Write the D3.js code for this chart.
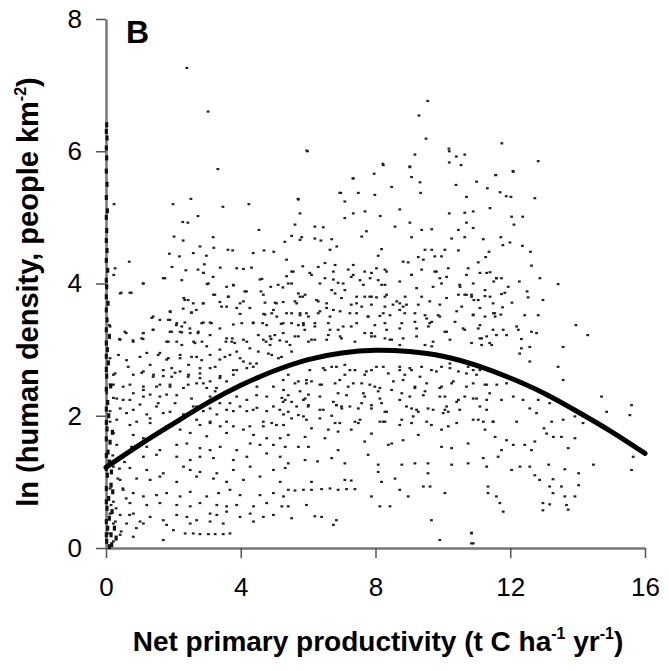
<!DOCTYPE html>
<html lang="en">
<head>
<meta charset="utf-8">
<script src="https://d3js.org/d3.v7.min.js"></script>
<style>
  body { margin: 0; background: #fff; }
  svg { display: block; font-family: "Liberation Sans", Arial, sans-serif; }
</style>
</head>
<body>
<svg width="669" height="671"></svg>
<script>
// ---- data (NPP in t C/ha/yr, ln people/km2) ----
var xTicks = [0, 4, 8, 12, 16];
var yTicks = [0, 2, 4, 6, 8];

// fitted quadratic, read at whole NPP units
var fitX = [0, 1, 2, 3, 4, 5, 6, 7, 8, 9, 10, 11, 12, 13, 14, 15, 16];
var fitY = [1.22, 1.56, 1.88, 2.19, 2.46, 2.68, 2.85, 2.95, 2.99, 2.97, 2.9, 2.76, 2.57, 2.34, 2.06, 1.76, 1.43];

// scattered cells, [npp, ln density]
var pointsTop = [[2.4,7.26],[3.03,6.6],[5.96,6.01],[5.7,5.28],[6.94,5.37],[9.55,6.76],[9.29,6.54],[9.5,6.19],
  [11.75,6.12],[10.18,6.04],[8.22,5.81],[9.02,5.76],[12.08,5.7],[11.57,5.64],[7.33,5.59]];

var pointsLeftHigh = [[3.32,5.73],[1.99,5.2],[2.52,5.28],[0.24,5.2],[4.24,5.2],[3.47,5.16],[2.73,5.02],[2.28,4.93],
  [2.43,4.92],[4.54,4.81],[2.02,4.71],[3.18,4.7],[2.29,4.65],[5.31,4.63],[2.79,4.56],[3.2,4.54],[3.62,4.51],[3.76,4.5],
  [4.37,4.46],[4.69,4.5],[4.98,4.48],[1.88,4.45],[2.18,4.41],[2.59,4.46],[2.98,4.42],[0.69,4.33],[2.92,4.29],[3.39,4.24],
  [3.88,4.23],[4.08,4.22],[4.32,4.24],[1.96,4.25],[2.37,4.2],[2.73,4.21],[2.89,4.16],[0.27,4.23],[0.23,4.13],[3.18,4.1],
  [1.75,4.08],[4.63,4.07],[5.36,4.11],[1.1,4.0],[3.0,3.99],[3.58,3.95],[3.78,3.97],[4.89,3.95],[5.25,3.94],[0.45,3.86],
  [0.75,3.86],[4.12,3.88],[4.6,3.88],[3.23,3.83],[3.63,3.8],[2.31,3.78],[2.44,3.75],[2.88,3.7],[3.38,3.72],[3.98,3.7],
  [4.72,3.71],[5.02,3.71],[5.26,3.72],[2.29,3.62],[2.53,3.56],[1.91,3.57],[2.68,3.6],[3.58,3.65],[3.98,3.54],[4.68,3.54],
  [4.92,3.55],[5.07,3.5],[1.36,3.48],[1.6,3.45],[1.9,3.45],[2.09,3.37],[2.34,3.41],[2.89,3.41],[3.13,3.4],[3.78,3.38],
  [4.37,3.41],[4.65,3.4],[5.2,3.39],[0.1,3.37],[0.6,3.25],[1.1,3.25],[1.4,3.3],[1.95,3.27],[2.25,3.26],[2.5,3.25],
  [2.73,3.25],[3.09,3.22],[3.75,3.17],[4.18,3.12],[4.52,3.22],[4.87,3.2],[5.16,3.14],[0.4,3.16],[0.8,3.14],[1.1,3.16],
  [1.85,3.12],[2.1,3.12],[2.6,3.12],[2.85,3.12],[3.56,3.12],[3.82,3.1],[4.75,3.12],[4.9,3.16]];

var pointsLeftLow = [[0.37,2.92],[1.01,2.89],[1.55,2.92],[1.8,2.85],[2.2,2.87],[2.69,2.89],[3.09,2.92],[3.53,2.89],
  [3.98,2.87],[4.28,2.79],[4.82,2.94],[5.12,2.87],[0.66,2.74],[1.31,2.77],[1.95,2.72],[2.45,2.77],[2.79,2.72],[3.24,2.74],
  [3.78,2.69],[4.18,2.72],[0.22,2.62],[0.81,2.62],[1.06,2.65],[1.41,2.62],[1.7,2.6],[2.05,2.65],[2.45,2.62],[2.79,2.57],
  [3.09,2.52],[3.39,2.6],[3.78,2.62],[0.12,2.47],[0.51,2.44],[1.11,2.39],[1.6,2.47],[1.9,2.44],[2.3,2.42],[2.69,2.49],
  [2.99,2.42],[3.24,2.37],[0.02,2.34],[0.81,2.34],[1.31,2.32],[1.8,2.32],[4.48,2.44],[4.97,2.44],[5.27,2.39],[5.32,2.24],
  [0.22,2.27],[0.51,2.24],[1.01,2.17],[1.55,2.19],[2.05,2.19],[2.69,2.14],[3.09,2.24],[3.68,2.19],[4.18,2.24],[4.48,2.12],
  [4.97,2.14],[5.22,2.27],[0.12,2.07],[0.61,2.04],[1.21,2.02],[1.7,2.04],[2.3,2.02],[2.89,2.07],[3.29,2.02],[3.78,2.07],
  [4.18,2.07],[4.77,2.07],[5.27,2.02],[0.12,1.91],[0.71,1.86],[1.31,1.89],[1.8,1.84],[2.2,1.79],[2.79,1.86],[3.09,1.91],
  [3.39,1.84],[3.78,1.84],[4.08,1.79],[4.67,1.84],[4.92,1.89],[5.27,1.86],[0.22,1.74],[0.81,1.71],[1.11,1.66],[1.6,1.74],
  [2.5,1.74],[2.99,1.69],[3.58,1.74],[4.38,1.71],[4.77,1.66],[5.17,1.66],[0.32,1.56],[0.76,1.53],[1.21,1.53],[1.6,1.48],
  [2.1,1.56],[2.4,1.58],[2.79,1.51],[3.09,1.48],[3.39,1.53],[3.88,1.48],[4.28,1.58],[4.57,1.56],[4.97,1.56],[5.32,1.53],
  [0.51,1.38],[1.11,1.38],[1.5,1.41],[2.1,1.38],[2.5,1.33],[2.79,1.38],[3.19,1.36],[3.78,1.33],[4.18,1.38],[4.77,1.43],
  [5.17,1.38],[0.22,1.23],[0.71,1.21],[1.21,1.18],[1.7,1.13],[2.3,1.23],[2.5,1.18],[2.79,1.15],[3.29,1.13],[3.78,1.18],
  [4.28,1.23],[4.97,1.18],[5.32,1.21],[0.42,1.03],[0.91,1.05],[1.31,1.03],[1.6,1.08],[2.1,1.0],[2.69,1.08],[3.19,1.05],
  [3.58,1.0],[4.08,1.03],[4.57,1.08],[5.17,1.0],[0.12,0.9],[0.51,0.88],[0.81,0.83],[1.11,0.78],[1.5,0.8],[1.8,0.83],
  [2.2,0.78],[2.5,0.85],[2.99,0.78],[3.34,0.83],[3.68,0.88],[3.98,0.8],[4.57,0.8],[4.97,0.83],[5.27,0.78],[0.22,0.7],
  [0.71,0.68],[1.21,0.65],[1.6,0.68],[2.1,0.65],[2.5,0.63],[2.79,0.68],[3.29,0.65],[3.58,0.63],[3.88,0.65],[4.38,0.63],
  [4.77,0.68],[5.22,0.63],[0.12,0.52],[0.42,0.5],[0.81,0.52],[1.01,0.4],[1.31,0.47],[1.7,0.42],[2.1,0.5],[2.4,0.47],
  [2.69,0.42],[3.09,0.52],[3.29,0.5],[3.58,0.55],[3.98,0.47],[4.28,0.52],[4.67,0.47],[4.97,0.5],[0.22,0.37],[0.61,0.37],
  [1.11,0.37],[1.8,0.35],[2.5,0.37],[3.09,0.4],[3.48,0.37],[4.38,0.4],[0.07,0.22],[0.42,0.2],[0.81,0.17],[1.7,0.12],
  [2.0,0.27],[2.35,0.22],[2.59,0.22],[2.79,0.21],[3.04,0.21],[3.24,0.21],[3.48,0.21],[3.68,0.22],[0.22,0.1],
  [0.3,0.6],[0.5,0.9],[0.35,1.05],[0.6,0.75],[0.28,0.4],[0.45,0.25],[0.7,0.5],[0.9,0.3],[0.2,1.4],[0.55,1.3],
  [0.15,0.65],[0.4,1.2]];

// second pass over the densest band, left of the peak
var pointsBandLeft = [[1.11,4.0],[1.7,4.08],[2.25,4.05],[2.89,4.16],[3.04,4.0],[3.78,3.98],[4.17,3.88],[4.57,4.06],
  [5.11,3.98],[5.51,4.0],[5.56,4.18],[0.42,3.85],[0.71,3.86],[2.34,3.75],[2.59,3.7],[3.63,3.8],[4.08,3.73],[4.67,3.83],
  [5.06,3.7],[5.76,3.8],[5.66,3.7],[1.9,3.58],[2.54,3.56],[2.89,3.7],[3.19,3.83],[3.43,3.65],[3.88,3.63],[4.27,3.63],
  [4.72,3.53],[4.97,3.6],[5.36,3.55],[5.76,3.55],[1.4,3.5],[1.85,3.45],[2.1,3.4],[2.25,3.35],[2.49,3.32],[2.84,3.4],
  [3.09,3.41],[3.38,3.32],[4.03,3.4],[4.37,3.4],[4.77,3.37],[5.26,3.4],[5.86,3.4],[0.12,3.35],[0.56,3.27],[1.11,3.25],
  [1.4,3.3],[1.9,3.27],[2.2,3.27],[2.74,3.27],[3.58,3.17],[3.73,3.12],[4.08,3.15],[4.67,3.15],[5.01,3.22],[5.26,3.25],
  [5.71,3.2],[0.42,3.15],[0.81,3.12],[1.06,3.17],[1.8,3.12],[2.25,3.07],[2.64,3.1],[2.99,3.05],[3.38,3.0],[3.88,2.97],
  [4.27,3.02],[4.52,2.97],[4.87,3.07],[5.46,3.07],[0.12,2.87],[0.61,2.84],[1.21,2.95],[1.6,2.95],[1.85,2.87],[2.2,2.92],
  [2.54,2.89],[2.84,2.84],[3.38,2.85],[3.68,2.92],[4.08,2.82],[4.47,2.79],[4.92,2.92],[5.21,2.89],[0.27,2.64],[1.11,2.67],
  [1.4,2.59],[1.7,2.69],[1.95,2.59],[2.2,2.67],[2.44,2.59],[2.79,2.64],[3.09,2.72],[3.38,2.57],[3.88,2.69],[4.37,2.74],
  [0.22,2.47],[0.71,2.47],[1.11,2.44],[1.5,2.44],[1.9,2.47],[2.44,2.47],[2.89,2.49],[3.28,2.42],[3.58,2.52],[5.26,2.54],
  [5.61,2.49],[5.95,2.54],[0.32,2.26],[0.71,2.24],[1.11,2.29],[1.6,2.29],[2.1,2.31],[2.54,2.26],[3.09,2.29],[3.38,2.19],
  [3.88,2.29],[4.47,2.31],[4.77,2.29],[5.26,2.21],[5.86,2.24],[0.42,2.11],[0.81,2.09],[1.5,2.14],[1.9,2.06],[2.59,2.14],
  [3.09,2.11],[3.58,2.09],[3.98,2.14],[4.37,2.09],[5.16,2.09],[5.66,2.14],[0.32,1.94],[0.91,1.91],[1.31,1.96],[2.69,1.94],
  [3.09,1.89],[3.58,1.91],[4.27,1.84],[4.67,1.91],[5.06,1.86],[5.51,1.96],[5.86,1.99]];

var pointsMidHigh = [[5.98,6.0],[9.17,5.95],[10.19,6.0],[10.4,5.92],[10.65,5.95],[10.19,5.83],[10.54,5.79],[8.23,5.79],
  [9.02,5.77],[7.96,5.66],[9.07,5.61],[9.32,5.53],[7.34,5.59],[8.48,5.46],[10.39,5.49],[6.97,5.37],[7.49,5.37],[7.98,5.34],
  [9.34,5.37],[5.71,5.27],[7.09,5.24],[10.7,5.31],[5.76,5.06],[7.34,5.06],[7.69,5.09],[8.72,5.12],[10.19,5.06],[10.65,5.07],
  [7.09,4.99],[8.14,5.02],[9.02,4.92],[10.7,4.92],[5.61,4.89],[6.2,4.86],[6.45,4.85],[7.73,4.79],[8.58,4.86],[9.37,4.81],
  [9.67,4.82],[10.46,4.81],[5.51,4.72],[5.81,4.7],[6.2,4.68],[6.7,4.67],[7.59,4.71],[9.07,4.7],[10.26,4.68],[10.65,4.7],
  [5.76,4.66],[6.38,4.65],[6.85,4.56],[6.65,4.51],[8.18,4.52],[9.47,4.51],[9.67,4.51],[10.06,4.51],[10.46,4.5],[8.08,4.42],
  [8.82,4.33],[8.97,4.32],[9.27,4.4],[9.42,4.36],[9.76,4.41],[9.96,4.41],[5.36,4.36],[5.84,4.26],[6.3,4.25],[6.5,4.31],
  [6.8,4.28],[7.19,4.21],[7.34,4.28],[7.68,4.18],[8.03,4.23],[8.28,4.21],[9.07,4.13],[9.37,4.21],[9.76,4.18],[10.16,4.23],
  [10.75,4.23],[5.51,4.18],[6.1,4.13],[6.5,4.08],[6.75,4.06],[6.89,4.01],[7.28,4.1],[7.54,4.05],[7.84,4.08],[8.08,4.05],
  [8.28,3.98],[9.91,4.08],[10.51,3.95],[9.96,4.0],[5.41,4.0],[5.71,3.85],[5.61,3.73],[5.84,3.8],[6.3,3.73],[6.8,3.85],
  [7.09,3.9],[7.44,3.8],[7.68,3.8],[7.88,3.8],[8.03,3.79],[8.28,3.8],[8.88,3.8],[9.37,3.8],[10.46,3.83],[10.7,3.83],
  [10.85,3.8],[5.51,3.55],[5.76,3.52],[6.01,3.5],[6.3,3.55],[6.55,3.63],[6.65,3.5],[6.95,3.58],[7.28,3.68],[7.59,3.65],
  [7.88,3.68],[8.28,3.65],[8.52,3.68],[8.72,3.7],[8.82,3.65],[9.27,3.68],[9.91,3.68],[10.56,3.65],[7.44,3.55],[7.78,3.5],
  [8.13,3.51],[8.43,3.52],[8.87,3.55],[9.47,3.52],[9.67,3.42],[9.86,3.52],[10.36,3.42],[5.51,3.4],[5.71,3.37],[5.9,3.3],
  [6.2,3.35],[6.6,3.4],[6.89,3.3],[7.28,3.35],[7.68,3.25],[7.98,3.37],[8.28,3.4],[8.78,3.4],[9.17,3.42],[9.57,3.35],
  [10.06,3.27],[10.65,3.3],[5.61,3.2],[6.01,3.12],[6.2,3.15],[6.6,3.22],[6.95,3.2],[7.88,3.2],[8.28,3.17],[8.48,3.15],
  [8.72,3.07],[9.47,3.07],[9.67,3.05],[10.85,3.1],[5.36,3.12]];

// second pass over the densest band, around the peak
var pointsBandMid = [[6.05,4.16],[6.75,4.18],[7.34,4.13],[7.88,4.16],[8.33,4.18],[9.07,4.13],[9.81,4.18],[10.11,4.1],
  [10.7,4.13],[11.3,4.16],[11.59,4.08],[6.35,4.0],[6.7,3.9],[7.04,4.0],[7.64,3.98],[8.18,3.98],[8.72,4.03],[9.22,3.93],
  [9.71,3.95],[10.5,3.98],[10.9,4.0],[11.25,3.9],[5.91,3.83],[6.25,3.75],[6.55,3.7],[6.99,3.78],[7.44,3.7],[7.83,3.8],
  [8.33,3.83],[8.63,3.73],[8.92,3.68],[9.61,3.73],[10.11,3.78],[10.65,3.83],[11.05,3.75],[11.49,3.7],[5.95,3.55],
  [6.35,3.58],[6.75,3.6],[7.24,3.55],[7.78,3.5],[8.23,3.55],[8.72,3.6],[9.17,3.55],[9.52,3.47],[9.91,3.5],[10.41,3.58],
  [10.9,3.53],[11.54,3.55],[5.86,3.37],[6.2,3.4],[6.65,3.3],[7.04,3.35],[7.44,3.4],[7.88,3.25],[8.33,3.3],[8.72,3.32],
  [9.22,3.32],[9.61,3.4],[10.11,3.27],[10.6,3.32],[11.1,3.37],[11.49,3.3],[6.1,3.15],[6.55,3.15],[6.99,3.17],[7.39,3.12],
  [7.98,3.2],[8.43,3.15],[8.82,3.17],[9.22,3.2],[9.71,3.12],[10.21,3.15],[11.15,3.17],[11.39,3.1],[6.05,2.69],[6.45,2.72],
  [6.84,2.74],[7.24,2.69],[7.73,2.67],[8.23,2.74],[8.72,2.69],[9.02,2.72],[9.32,2.59],[9.81,2.67],[10.21,2.72],[10.7,2.64],
  [11.1,2.69],[5.95,2.49],[6.35,2.47],[6.94,2.54],[7.34,2.49],[7.83,2.47],[8.13,2.42],[8.53,2.52],[8.82,2.54],[9.17,2.44],
  [9.52,2.49],[9.91,2.42],[10.31,2.52],[10.7,2.44],[11.3,2.47],[5.91,2.26],[6.35,2.29],[6.75,2.21],[7.14,2.31],[7.64,2.34],
  [8.13,2.26],[8.72,2.24],[9.02,2.29],[9.42,2.31],[9.91,2.29],[10.41,2.21],[10.9,2.26],[11.39,2.34],[6.0,2.14],[6.45,2.09],
  [6.84,2.16],[6.99,2.14],[7.49,2.11],[7.88,2.16],[8.33,2.06],[8.92,2.14],[9.22,2.09],[9.71,2.09],[10.11,2.14],[10.5,2.09],
  [11.1,2.14],[5.95,1.94],[6.35,1.96],[6.94,1.89],[7.54,1.94],[8.23,1.91],[8.72,1.86],[9.12,1.99],[9.52,1.91],[10.01,2.04],
  [10.41,1.89],[10.9,1.94],[11.49,1.91]];

var pointsMidLow = [[5.51,2.97],[5.41,2.62],[5.71,2.52],[6.1,2.52],[6.5,2.69],[6.7,2.74],[7.09,2.77],[7.09,2.62],
  [7.39,2.69],[7.68,2.62],[7.88,2.69],[8.03,2.74],[8.38,2.64],[8.72,2.74],[8.87,2.62],[9.07,2.69],[9.37,2.74],[9.66,2.69],
  [9.96,2.74],[10.21,2.79],[10.46,2.67],[10.75,2.74],[6.4,2.47],[6.8,2.49],[7.19,2.44],[7.59,2.49],[7.98,2.44],[8.48,2.39],
  [8.78,2.34],[9.17,2.42],[9.47,2.37],[9.96,2.44],[10.26,2.49],[5.41,2.31],[5.76,2.37],[6.01,2.32],[6.89,2.34],[7.68,2.29],
  [8.08,2.37],[10.06,2.29],[10.46,2.24],[10.65,2.29],[5.51,2.21],[6.01,2.16],[6.35,2.09],[6.84,2.16],[7.0,2.11],[7.24,2.14],
  [7.59,2.19],[7.88,2.11],[8.18,2.19],[8.28,2.06],[9.07,2.11],[9.27,2.06],[9.56,2.11],[10.06,2.09],[10.16,2.06],[5.41,2.06],
  [5.71,2.01],[6.7,2.0],[6.8,1.89],[7.39,1.91],[7.49,1.89],[8.13,1.91],[8.28,1.91],[8.78,1.94],[9.07,1.89],[9.66,1.86],
  [9.96,1.79],[10.16,1.84],[6.1,1.81],[6.6,1.79],[6.89,1.76],[7.28,1.79],[7.88,1.73],[5.41,1.71],[5.91,1.68],[6.5,1.66],
  [7.68,1.61],[8.82,1.63],[9.27,1.71],[10.75,1.58],[5.71,1.53],[6.01,1.53],[8.38,1.56],[8.48,1.58],[9.96,1.53],[10.26,1.51],
  [6.89,1.48],[7.78,1.41],[6.28,1.31],[6.7,1.36],[7.09,1.28],[8.08,1.26],[8.78,1.26],[9.17,1.28],[9.56,1.28],[10.26,1.26],
  [10.75,1.28],[5.41,1.28],[5.91,1.33],[8.08,1.15],[9.56,1.13],[6.1,1.0],[7.09,1.03],[7.28,1.02],[8.18,1.0],[8.58,1.05],
  [5.41,0.88],[5.61,0.87],[5.86,0.88],[6.1,0.88],[6.4,0.89],[6.65,0.9],[6.89,0.88],[7.14,0.89],[7.39,0.89],[8.72,0.88],
  [8.97,0.78],[9.42,0.93],[9.62,0.93],[10.06,0.83],[7.88,0.78],[5.95,0.65],[8.13,0.63],[8.43,0.63],[5.41,0.63],[5.51,0.45],
  [6.2,0.48],[6.4,0.47],[6.84,0.42],[6.75,0.35],[9.66,0.42],[9.91,0.12],[10.85,0.23],[10.85,0.07]];

var pointsRight = [[12.83,5.85],[12.09,5.69],[11.57,5.64],[11.0,5.54],[11.32,5.44],[11.7,5.38],[11.88,5.32],[12.02,5.31],
  [12.73,5.29],[11.4,5.14],[10.9,5.09],[12.04,5.01],[12.37,5.01],[12.11,4.89],[10.9,4.84],[11.2,4.67],[11.72,4.7],
  [11.78,4.58],[11.99,4.62],[12.36,4.57],[11.37,4.48],[12.6,4.48],[11.27,4.4],[11.05,4.32],[12.63,4.27],[11.1,4.16],
  [11.4,4.17],[11.59,4.08],[11.74,4.08],[11.51,4.03],[11.94,3.95],[12.27,4.03],[12.88,4.08],[13.42,3.99],[10.85,3.83],
  [11.25,3.81],[11.4,3.8],[11.74,3.84],[11.84,3.86],[12.5,3.88],[12.53,3.79],[10.92,3.75],[12.05,3.71],[12.97,3.75],
  [11.1,3.63],[11.77,3.64],[10.9,3.52],[11.25,3.5],[11.5,3.55],[11.55,3.5],[11.72,3.53],[12.43,3.52],[12.83,3.52],
  [11.05,3.32],[11.79,3.3],[12.19,3.35],[12.24,3.3],[12.63,3.27],[12.78,3.25],[13.95,3.37],[14.3,3.22],[11.1,3.17],
  [11.3,3.2],[11.59,3.22],[11.89,3.22],[12.33,3.16],[11.15,3.07],[11.45,3.07],[12.33,3.02],[12.58,3.04],[13.57,3.04],
  [12.28,2.94],[12.58,2.82],[13.42,2.74],[13.57,2.54],[10.9,2.69],[11.0,2.62],[10.9,2.49],[11.25,2.47],[11.6,2.47],
  [11.89,2.49],[12.09,2.29],[11.0,2.26],[11.3,2.24],[11.74,2.24],[12.38,2.24],[12.83,2.24],[13.17,2.19],[12.58,2.11],
  [11.3,2.09],[14.71,2.29],[15.6,2.16],[14.86,2.06],[15.55,2.01],[11.05,1.94],[11.2,1.91],[11.49,1.91],[12.19,1.91],
  [12.78,2.04],[13.23,1.91],[13.57,1.94],[13.92,1.99],[14.16,1.89],[11.25,1.79],[11.55,1.68],[11.89,1.63],[12.09,1.56],
  [12.43,1.56],[12.73,1.61],[13.0,1.81],[13.08,1.73],[13.28,1.68],[13.52,1.68],[13.92,1.66],[13.72,1.51],[11.74,1.48],
  [11.2,1.36],[11.64,1.38],[12.63,1.48],[11.3,1.23],[12.04,1.18],[12.29,1.23],[12.58,1.23],[12.73,1.1],[13.14,1.26],
  [13.62,1.19],[14.03,1.13],[14.47,1.26],[15.65,1.38],[15.6,1.18],[12.87,1.03],[13.27,1.04],[14.03,0.95],[11.34,0.93],
  [13.17,0.93],[13.52,0.93],[13.27,0.83],[13.62,0.78],[13.92,0.78],[11.34,0.83],[11.59,0.78],[11.69,0.68],[12.97,0.68],
  [13.17,0.66],[13.67,0.65],[12.97,0.57],[13.72,0.58],[11.79,0.55],[10.85,0.22],[10.9,0.07]];

// cells piled up against the zero-NPP axis
var pointsAxis = [[0.02,0.1],[0.05,0.3],[0.1,0.45],[0.03,0.6],[0.08,0.75],[0.15,0.95],[0.04,1.1],[0.1,1.3],[0.06,1.45],
  [0.12,1.6],[0.03,1.8],[0.08,2.0],[0.05,2.2],[0.14,2.45],[0.02,2.6],[0.07,2.8],[0.04,3.0],[0.1,3.2],[0.03,3.45],
  [0.06,3.7],[0.02,3.95],[0.05,4.2],[0.03,4.5],[0.02,4.8],[0.04,5.1],[0.03,5.5],[0.02,5.9],[0.03,6.2],[0.02,6.4],
  [0.15,0.2],[0.18,0.55],[0.2,0.85],[0.16,1.15],[0.19,1.75],[0.17,0.05],[0.25,0.3],[0.3,0.15],[0.1,0.02],
  [0.01,0.2],[0.01,0.4],[0.01,0.7],[0.01,0.9],[0.01,1.2],[0.01,1.4],[0.01,1.65],[0.01,1.9],[0.01,2.1],[0.01,2.4],
  [0.01,2.7],[0.01,2.9],[0.01,3.1],[0.01,3.3],[0.01,3.6],[0.01,3.8],[0.01,4.05],[0.01,4.35],[0.01,4.65],[0.01,5.0],
  [0.01,5.3],[0.01,5.7],[0.01,6.05],[0.01,6.3]];

var svg = d3.select("svg");

var x = d3.scaleLinear().domain([0, 16]).range([106, 645]);
var y = d3.scaleLinear().domain([0, 8]).range([548, 19]);

var allPoints = pointsTop.concat(pointsLeftHigh, pointsLeftLow, pointsBandLeft,
  pointsMidHigh, pointsBandMid, pointsMidLow, pointsRight);

// axes
var yAxis = svg.append("g")
    .attr("transform", "translate(106,0)")
    .call(d3.axisLeft(y).tickValues(yTicks).tickSize(10).tickSizeOuter(0).tickPadding(14));

var xAxis = svg.append("g")
    .attr("transform", "translate(0,548)")
    .call(d3.axisBottom(x).tickValues(xTicks).tickSize(10).tickSizeOuter(0).tickPadding(20));

[yAxis, xAxis].forEach(function(g) {
  g.select(".domain").attr("stroke", "#777").attr("stroke-width", 2.5);
  g.selectAll(".tick line").attr("stroke", "#555").attr("stroke-width", 1.5);
  g.selectAll(".tick text").attr("font-size", 26).attr("fill", "#000")
    .attr("font-family", "'Liberation Sans', Arial, sans-serif");
});

// scatter
svg.append("g").selectAll("rect")
  .data(allPoints)
  .enter().append("rect")
    .attr("x", function(d) { return x(d[0]) - 1.4; })
    .attr("y", function(d) { return y(d[1]) - 1.1; })
    .attr("width", 2.8)
    .attr("height", 2.2)
    .attr("fill", "#222");

// the pile on the y axis reads as a thick black bar
svg.append("g").selectAll("rect")
  .data(pointsAxis)
  .enter().append("rect")
    .attr("x", function(d) { return x(d[0]) - 1.6; })
    .attr("y", function(d) { return y(d[1]) - 2.5; })
    .attr("width", 3.2)
    .attr("height", 5)
    .attr("fill", "#111");

// fitted curve
var fit = fitX.map(function(v, i) { return [v, fitY[i]]; });
svg.append("path")
  .datum(fit)
  .attr("fill", "none")
  .attr("stroke", "#000")
  .attr("stroke-width", 5)
  .attr("stroke-linecap", "round")
  .attr("d", d3.line()
    .x(function(d) { return x(d[0]); })
    .y(function(d) { return y(d[1]); })
    .curve(d3.curveNatural));

// panel letter
svg.append("text")
  .attr("x", 126).attr("y", 43)
  .attr("font-size", 32).attr("font-weight", "bold")
  .text("B");

// y title
var yt = svg.append("text")
  .attr("transform", "translate(38,292) rotate(-90)")
  .attr("text-anchor", "middle")
  .attr("font-size", 29).attr("font-weight", "bold");
yt.append("tspan").text("ln (human density, people km");
yt.append("tspan").attr("font-size", 16).attr("dy", -12).text("-2");
yt.append("tspan").attr("dy", 12).text(")");

// x title
var xt = svg.append("text")
  .attr("x", 378).attr("y", 651)
  .attr("text-anchor", "middle")
  .attr("font-size", 28).attr("font-weight", "bold");
xt.append("tspan").text("Net primary productivity (t C ha");
xt.append("tspan").attr("font-size", 16).attr("dy", -12).text("-1");
xt.append("tspan").attr("dy", 12).text(" yr");
xt.append("tspan").attr("font-size", 16).attr("dy", -12).text("-1");
xt.append("tspan").attr("dy", 12).text(")");
</script>
</body>
</html>
